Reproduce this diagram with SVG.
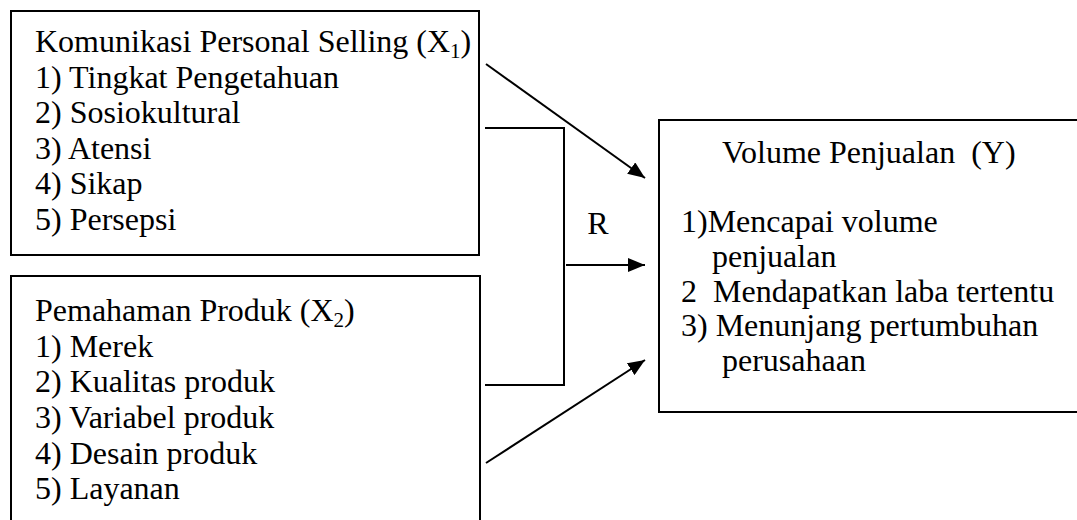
<svg xmlns="http://www.w3.org/2000/svg" width="1077" height="520" viewBox="0 0 1077 520">
<style>
.box{fill:#fff;stroke:#000;stroke-width:2}
.t{font-family:"Liberation Serif","Times New Roman",serif;font-size:32px;fill:#000;white-space:pre}
.c{fill:none;stroke:#000;stroke-width:2}
</style>
<defs>
<marker id="ah" markerUnits="userSpaceOnUse" markerWidth="17" markerHeight="14" viewBox="0 0 17 14" refX="17" refY="7" orient="auto">
<path d="M0,0 L17,7 L0,14 z" fill="#000"/>
</marker>
</defs>
<rect width="1077" height="520" fill="#fff"/>
<g id="x1">
<rect class="box" x="11" y="11" width="468" height="244"/>
<text class="t" x="35" y="52">Komunikasi Personal Selling (X<tspan font-size="21" dy="6">1</tspan><tspan dy="-6">)</tspan></text>
<text class="t" x="35" y="87.5">1) Tingkat Pengetahuan</text>
<text class="t" x="35" y="123">2) Sosiokultural</text>
<text class="t" x="35" y="158.5">3) Atensi</text>
<text class="t" x="35" y="194">4) Sikap</text>
<text class="t" x="35" y="229.5">5) Persepsi</text>
</g>
<g id="x2">
<rect class="box" x="11" y="276" width="469" height="260"/>
<text class="t" x="35" y="321">Pemahaman Produk (X<tspan font-size="21" dy="6">2</tspan><tspan dy="-6">)</tspan></text>
<text class="t" x="35" y="357">1) Merek</text>
<text class="t" x="35" y="392">2) Kualitas produk</text>
<text class="t" x="35" y="428">3) Variabel produk</text>
<text class="t" x="35" y="464">4) Desain produk</text>
<text class="t" x="35" y="499">5) Layanan</text>
</g>
<g id="y">
<rect class="box" x="659" y="120" width="430" height="292"/>
<text class="t" x="722" y="163">Volume Penjualan  (Y)</text>
<text class="t" x="681" y="232">1)Mencapai volume</text>
<text class="t" x="712" y="267">penjualan</text>
<text class="t" x="681" y="302">2  Mendapatkan laba tertentu</text>
<text class="t" x="681" y="336">3) Menunjang pertumbuhan</text>
<text class="t" x="722" y="371">perusahaan</text>
</g>
<g id="connectors">
<polyline class="c" points="485,128 564,128 564,385 485,385"/>
<line class="c" x1="486" y1="64" x2="645" y2="178" marker-end="url(#ah)"/>
<line class="c" x1="566" y1="265" x2="645" y2="265" marker-end="url(#ah)"/>
<line class="c" x1="486" y1="463" x2="645" y2="360" marker-end="url(#ah)"/>
<text class="t" x="598" y="234" text-anchor="middle">R</text>
</g>
</svg>
